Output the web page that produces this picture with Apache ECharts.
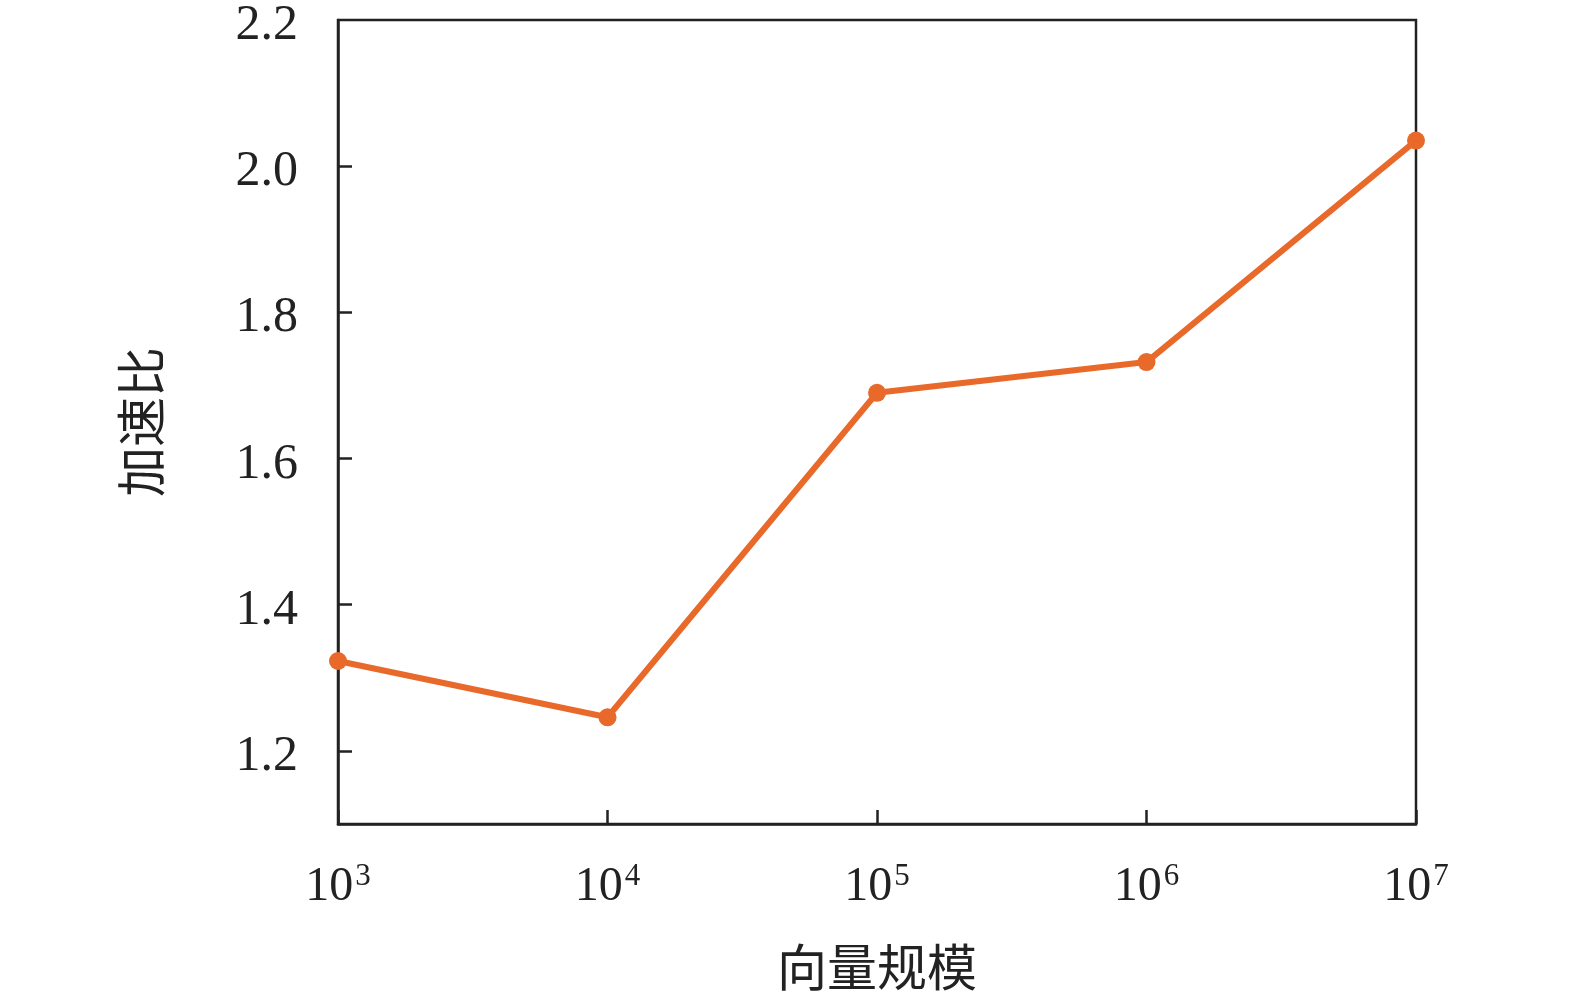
<!DOCTYPE html>
<html><head><meta charset="utf-8">
<script src="https://cdn.jsdelivr.net/npm/echarts@6/dist/echarts.min.js"></script>
<style>html,body{margin:0;padding:0;background:#fff}#c{width:1575px;height:999px}</style>
</head><body><div id="c"></div>
<script>
const categories = ['3', '4', '5', '6', '7']; // exponents of 10
const speedup = [1.323, 1.246, 1.690, 1.732, 2.035];
const yTickValues = [1.2, 1.4, 1.6, 1.8, 2.0];
const yLabelValues = [1.2, 1.4, 1.6, 1.8, 2.0, 2.2];
const xName = '向量规模';
const yName = '加速比';

const chart = echarts.init(document.getElementById('c'));
const serif = '"Liberation Serif","Times New Roman",serif';
const cjk = '"Noto Sans CJK SC",sans-serif';
chart.setOption({
  animation: false,
  grid: { left: 338, right: 159, top: 20, bottom: 175, containLabel: false, outerBoundsMode: 'none',
    show: true, borderColor: '#222', borderWidth: 2.5 },
  xAxis: {
    type: 'category', data: categories, boundaryGap: false,
    name: xName, nameLocation: 'middle', nameGap: 118,
    nameTextStyle: { fontFamily: cjk, fontSize: 50, color: '#222' },
    axisLine: { show: true, onZero: false, lineStyle: { color: '#222', width: 2.5 } },
    axisTick: { show: true, inside: true, length: 14, interval: 0, lineStyle: { color: '#222', width: 2.5 } },
    axisLabel: {
      margin: 37, inside: false,
      formatter: v => '{b|10}{s|' + v + '}',
      rich: {
        b: { fontFamily: serif, fontSize: 48, color: '#222', lineHeight: 50, verticalAlign: 'bottom' },
        s: { fontFamily: serif, fontSize: 31, color: '#222', lineHeight: 50, verticalAlign: 'top', padding: [0, 0, 0, 2] }
      }
    },
    splitLine: { show: false }
  },
  yAxis: {
    type: 'value', min: 1.1, max: 2.2, interval: 0.1,
    name: yName, nameLocation: 'middle', nameGap: 172,
    nameTextStyle: { fontFamily: cjk, fontSize: 50, color: '#222' },
    axisLine: { show: true, lineStyle: { color: '#222', width: 2.5 } },
    axisTick: { show: true, inside: true, length: 14, customValues: yTickValues, lineStyle: { color: '#222', width: 2.5 } },
    axisLabel: { margin: 40, customValues: yLabelValues, formatter: v => '{n|' + v.toFixed(1) + '}',
      rich: { n: { fontFamily: serif, fontSize: 50, color: '#222', lineHeight: 50, padding: [12, 0, 0, 0] } } },
    splitLine: { show: false }
  },
  series: [{
    type: 'line', data: speedup, clip: true,
    symbol: 'circle', symbolSize: 18,
    lineStyle: { color: '#E8692A', width: 6 },
    itemStyle: { color: '#E8692A' }
  }]
});
</script></body></html>
